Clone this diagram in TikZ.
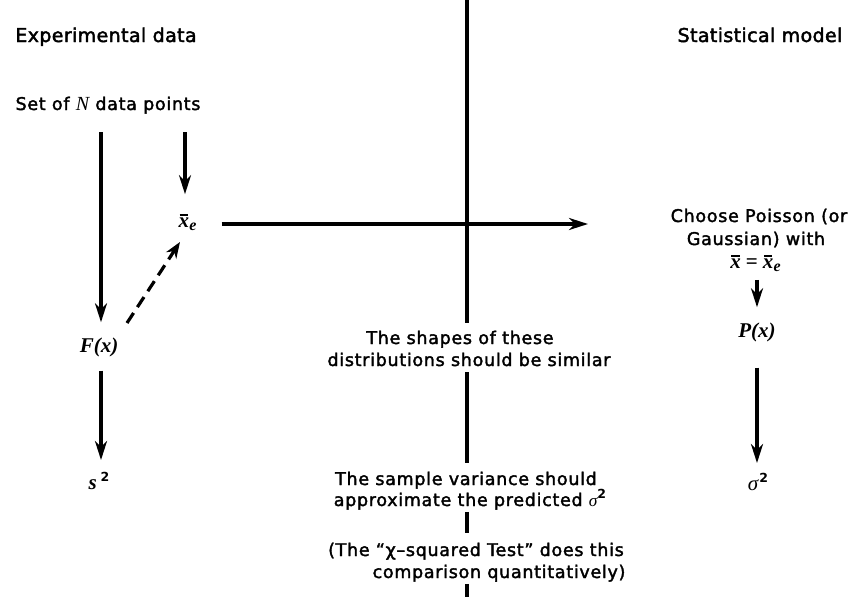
\documentclass[tikz,border=0pt]{standalone}
\usepackage{fontspec}
\setmainfont{DejaVu Sans}[LetterSpace=4.0, FakeBold=2]
\newfontfamily\headfont{DejaVu Sans}[LetterSpace=2.0, FakeBold=2.2]
\newfontfamily\serif{Liberation Serif}
\newfontfamily\supfont{DejaVu Sans}
\usetikzlibrary{arrows.meta}

% bold italic serif symbols
\newcommand\bi[1]{{\serif\bfseries\itshape #1}}
\newcommand\sqsup{\raisebox{7.5pt}{\supfont\bfseries\fontsize{12.5}{12}\selectfont 2}}
\newcommand\xbar{\vbox{\hrule height 1.2pt\kern1.8pt\hbox{\kern-1pt\bi{x}\kern-1pt}}}
\newcommand\xbare{\xbar\kern1.2pt\raisebox{-3.5pt}{\bi{\fontsize{16}{16}\selectfont e}}}
\newcommand\sig{{\serif\itshape σ}}

\tikzset{
  txt/.style={inner sep=0pt, anchor=base, font=\fontsize{17.5}{23}\selectfont},
  head/.style={inner sep=0pt, anchor=base, font=\headfont\fontsize{19}{23}\selectfont},
  sym/.style={inner sep=0pt, anchor=base, font=\fontsize{21}{24}\selectfont},
  rule/.style={line width=3.4pt},
  arr/.style={line width=3.2pt, -{Stealth[length=19pt,width=12pt,inset=6pt]}},
  darr/.style={line width=3.2pt, dash pattern=on 12pt off 7pt,
    -{Stealth[length=16pt,width=12pt,inset=5pt]}}
}

\begin{document}
\begin{tikzpicture}[x=1pt,y=-1pt]
\useasboundingbox (0,0) rectangle (849,597);

% column headings
\node[head] (hexp) at (106,42) {Experimental data};
\node[head] (hstat) at (760,42) {Statistical model};

% experimental side
\node[txt] (setN) at (108,110) {Set of {\serif\itshape\fontsize{20}{20}\selectfont N} data points};
\node[sym] (xe) at (188,227) {\xbare};
\node[sym] (Fx) at (99,352) {\bi{F(x)}};
\node[sym] (s2) at (99,489) {\bi{s}\kern4pt\sqsup};

% model side
\node[txt] (ch1) at (759,222) {Choose Poisson (or};
\node[txt] (ch2) at (756,245) {Gaussian) with};
\node[sym] (ch3) at (756,268) {\xbar\kern6pt{\serif\bfseries =}\kern6pt\xbare};
\node[sym] (Px) at (757,337) {\bi{P(x)}};
\node[sym] (sg2) at (758,490) {\sig\kern1pt\sqsup};

% comparison texts on the central axis
\node[txt] (sh1) at (460,344) {The shapes of these};
\node[txt] (sh2) at (469,366) {distributions should be similar};
\node[txt] (sv1) at (466,485) {The sample variance should};
\node[txt] (sv2) at (470,506) {approximate the predicted \sig\sqsup};
\node[txt] (cq1) at (476,556) {(The “χ–squared Test” does this};
\node[txt] (cq2) at (499,578) {comparison quantitatively)};

% anchor points for the connectors
\coordinate (cL) at (101,132);
\coordinate (cM) at (185,132);
\coordinate (cR) at (757,0);
\coordinate (ctop) at (467,0);
\coordinate (cbot) at (467,597);
\coordinate (hend) at (588,224);
\coordinate (d1) at (127,323);
\coordinate (d2) at (180,242);

% central dividing axis
\draw[rule, shorten >=8pt] (ctop) -- (ctop |- sh1.north);
\draw[rule, shorten <=6pt, shorten >=9pt] (ctop |- sh2.south) -- (ctop |- sv1.north);
\draw[rule, shorten <=2pt, shorten >=10pt] (ctop |- sv2.south) -- (ctop |- cq1.north);
\draw[rule, shorten <=2pt] (ctop |- cq2.south) -- (cbot);

% experimental data flow
\draw[arr, shorten >=15pt] (cL) -- (cL |- Fx.north);
\draw[arr, shorten >=20pt] (cM) -- (cM |- xe.north);
\draw[arr, shorten <=14pt, shorten >=12pt] (cL |- Fx.south) -- (cL |- s2.north);
\draw[darr] (d1) -- (d2);
\draw[arr, shorten <=25pt] (xe.east |- hend) -- (hend);

% model flow
\draw[arr, shorten <=8pt, shorten >=15pt] (cR |- ch3.south) -- (cR |- Px.north);
\draw[arr, shorten <=26pt, shorten >=10pt] (cR |- Px.south) -- (cR |- sg2.north);
\end{tikzpicture}
\end{document}
